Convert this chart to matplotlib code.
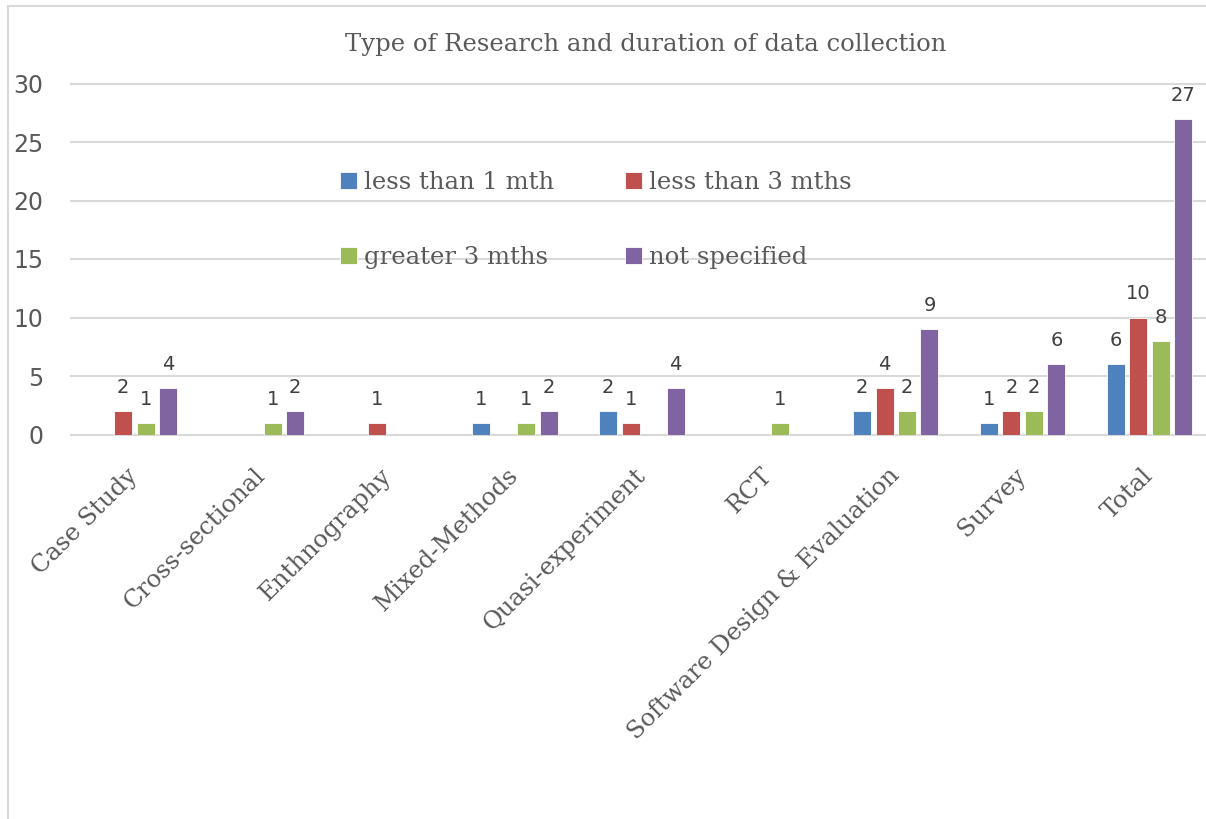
import numpy as np
import matplotlib
matplotlib.use('Agg')
import matplotlib.pyplot as plt
from matplotlib.patches import Rectangle

# Studies by research type and how long data was collected
categories = ['Case Study', 'Cross-sectional', 'Enthnography', 'Mixed-Methods',
              'Quasi-experiment', 'RCT', 'Software Design & Evaluation',
              'Survey', 'Total']
series_names = ['less than 1 mth', 'less than 3 mths', 'greater 3 mths', 'not specified']
less_1 = [0, 0, 0, 1, 2, 0, 2, 1, 6]
less_3 = [2, 0, 1, 0, 1, 0, 4, 2, 10]
greater_3 = [1, 1, 0, 1, 0, 1, 2, 2, 8]
not_specified = [4, 2, 0, 2, 4, 0, 9, 6, 27]

colors = ['#4F81BD', '#C0504D', '#9BBB59', '#8064A2']
serif = 'DejaVu Serif'
sans = 'DejaVu Sans'

W, H = 1206, 819
fig = plt.figure(figsize=(W / 100, H / 100), dpi=100)

# plot area in pixel terms (right edge runs slightly past the image)
left, right, top, bottom = 71, 1213, 83.5, 434.5
ax = fig.add_axes([left / W, 1 - bottom / H, (right - left) / W, (bottom - top) / H])

x = np.arange(len(categories))
pitch = 0.177
width = 0.142
all_series = [less_1, less_3, greater_3, not_specified]

handles = []
for i, (vals, name, c) in enumerate(zip(all_series, series_names, colors)):
    pos = x + (i - 1.5) * pitch
    bars = ax.bar(pos, vals, width, color=c, label=name,
                  edgecolor='#FFFFFF', linewidth=0.6, zorder=3)
    handles.append(bars)
    for b, v in zip(bars, vals):
        if v == 0:
            continue
        ax.annotate(str(v), (b.get_x() + b.get_width() / 2, v),
                    xytext=(0, 13), textcoords='offset points',
                    ha='center', va='baseline', fontsize=14,
                    color='#404040', family=sans)

ax.set_xlim(-0.5, len(categories) - 0.5)
ax.set_ylim(0, 30)
ax.set_yticks(range(0, 31, 5))
ax.yaxis.grid(True, color='#D9D9D9', linewidth=1.5, zorder=0)
for gl in ax.get_ygridlines():
    gl.set_clip_on(False)
ax.set_axisbelow(True)
for s in ['left', 'right', 'top']:
    ax.spines[s].set_visible(False)
ax.spines['bottom'].set_color('#D9D9D9')
ax.spines['bottom'].set_linewidth(1.5)

ax.tick_params(axis='y', length=0, pad=20, labelsize=17, labelcolor='#595959')
for t in ax.get_yticklabels():
    t.set_family(sans)

ax.set_xticks(x)
ax.set_xticklabels(categories, rotation=45, ha='right', va='center',
                   rotation_mode='anchor', fontsize=17.5, color='#595959',
                   family=serif)
ax.tick_params(axis='x', length=0, pad=27)

fig.text(646 / W, 1 - 44 / H, 'Type of Research and duration of data collection',
         ha='center', va='center', fontsize=17.5, color='#595959', family=serif)

# legend fills row by row: blue, red on top; green, purple below
order = [0, 2, 1, 3]
leg = fig.legend([handles[k] for k in order], [series_names[k] for k in order],
                 loc='upper left', bbox_to_anchor=(340 / W, 1 - 171 / H),
                 ncol=2, frameon=False, borderpad=0, borderaxespad=0,
                 handlelength=0.7, handleheight=0.7, handletextpad=0.3,
                 labelspacing=2.15, columnspacing=2.9,
                 prop={'family': serif, 'size': 17.5})
for t in leg.get_texts():
    t.set_color('#595959')

# chart border
fig.patches.append(Rectangle((8 / W, -0.1), 1.2, 1 - 6 / H + 0.1,
                             transform=fig.transFigure, fill=False,
                             edgecolor='#D9D9D9', linewidth=1.5))

fig.savefig('out.png', dpi=100)
